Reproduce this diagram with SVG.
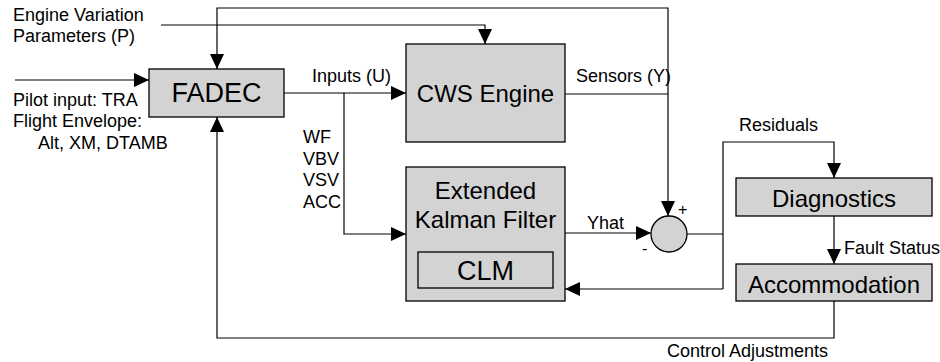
<svg xmlns="http://www.w3.org/2000/svg" width="940" height="362" viewBox="0 0 940 362">
  <style>
    .box { fill: #d3d3d3; stroke: #000; stroke-width: 1.3; }
    .inner { fill: none; stroke: #000; stroke-width: 1.3; }
    .wire { fill: none; stroke: #000; stroke-width: 1.2; }
    .lbl { font-family: "Liberation Sans", Arial, sans-serif; font-size: 18px; fill: #000; }
    .big { font-family: "Liberation Sans", Arial, sans-serif; font-size: 24px; fill: #000; text-anchor: middle; }
    .arr { marker-end: url(#head); }
  </style>
  <defs>
    <marker id="head" markerUnits="userSpaceOnUse" markerWidth="15" markerHeight="14" refX="15" refY="7" orient="auto">
      <path d="M0,0 L15,7 L0,14 Z" fill="#000"/>
    </marker>
  </defs>

  <rect width="940" height="362" fill="#fff"/>

  <!-- connectors -->
  <g id="connectors">
    <!-- external inputs -->
    <path class="wire arr" d="M161,25 H485 V44"/>
    <path class="wire arr" d="M15,80 H149"/>
    <!-- FADEC outputs -->
    <path class="wire arr" d="M284,93 H406"/>
    <path class="wire arr" d="M344,93 V234 H406"/>
    <!-- sensors to summing junction and back to FADEC -->
    <path class="wire arr" d="M565,94 H668 V216"/>
    <path class="wire arr" d="M668,94 V8 H217 V69"/>
    <!-- estimate into summing junction -->
    <path class="wire arr" d="M565,233 H651"/>
    <!-- residuals -->
    <path class="wire" d="M687,234 H723"/>
    <path class="wire arr" d="M723,289 V142 H834 V178"/>
    <path class="wire arr" d="M723,289 H565"/>
    <!-- fault status -->
    <path class="wire arr" d="M834,216 V264"/>
    <!-- control adjustments -->
    <path class="wire arr" d="M834,301 V338 H217 V117"/>
  </g>

  <g id="fadec">
    <rect class="box" x="149" y="69" width="135" height="48"/>
    <text class="big" x="216.5" y="102" style="font-size:27px">FADEC</text>
  </g>

  <g id="cws-engine">
    <rect class="box" x="406" y="44" width="159" height="98"/>
    <text class="big" x="485.5" y="102">CWS Engine</text>
  </g>

  <g id="ekf">
    <rect class="box" x="406" y="167" width="159" height="134"/>
    <text class="big" x="485.5" y="199">Extended</text>
    <text class="big" x="485.5" y="228">Kalman Filter</text>
  </g>

  <g id="clm">
    <rect class="inner" x="418" y="252" width="135" height="36"/>
    <text class="big" x="485.5" y="280" style="font-size:27px">CLM</text>
  </g>

  <g id="sum">
    <circle class="box" cx="669" cy="234" r="18"/>
    <text class="lbl" x="678" y="215" style="font-size:16px">+</text>
    <text class="lbl" x="642" y="254" style="font-size:16px">-</text>
  </g>

  <g id="diagnostics">
    <rect class="box" x="736" y="178" width="196" height="38"/>
    <text class="big" x="834" y="207">Diagnostics</text>
  </g>

  <g id="accommodation">
    <rect class="box" x="736" y="264" width="196" height="37"/>
    <text class="big" x="834" y="293">Accommodation</text>
  </g>

  <g id="labels">
    <text class="lbl" x="13" y="21">Engine Variation</text>
    <text class="lbl" x="13" y="42">Parameters (P)</text>
    <text class="lbl" x="13" y="106">Pilot input: TRA</text>
    <text class="lbl" x="13" y="127">Flight Envelope:</text>
    <text class="lbl" x="38" y="149">Alt, XM, DTAMB</text>
    <text class="lbl" x="312" y="82">Inputs (U)</text>
    <text class="lbl" x="576" y="82">Sensors (Y)</text>
    <text class="lbl" x="303" y="143">WF</text>
    <text class="lbl" x="303" y="165">VBV</text>
    <text class="lbl" x="303" y="186">VSV</text>
    <text class="lbl" x="303" y="208">ACC</text>
    <text class="lbl" x="587" y="229">Yhat</text>
    <text class="lbl" x="739" y="131">Residuals</text>
    <text class="lbl" x="844" y="254">Fault Status</text>
    <text class="lbl" x="667" y="357">Control Adjustments</text>
  </g>
</svg>
